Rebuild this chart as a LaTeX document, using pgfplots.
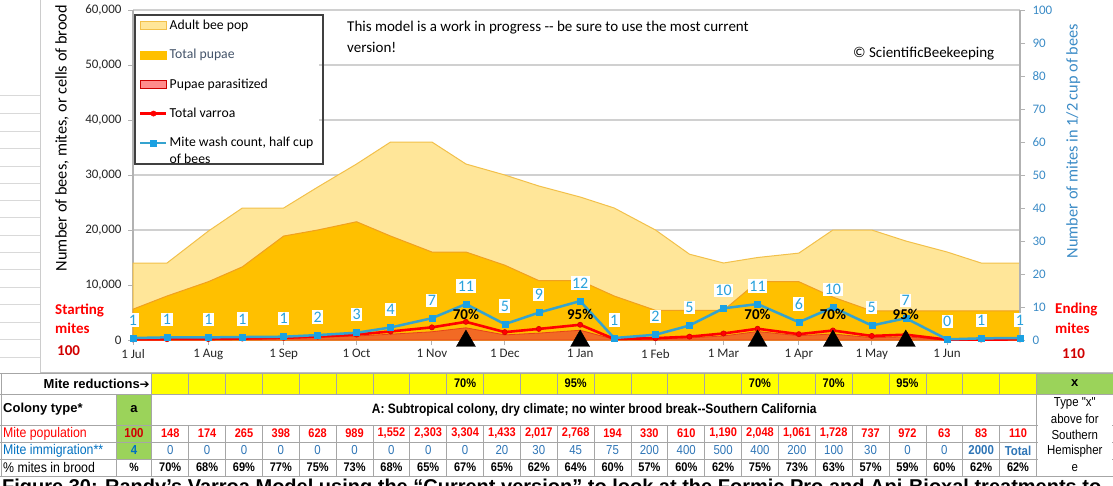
\documentclass[border=0pt]{standalone}
\usepackage{pgfplots}
\usepackage{pgfplotstable}
\pgfplotsset{compat=1.18}
\usepackage{fontspec}
\setmainfont{Carlito}
\newfontfamily\narrow[FakeStretch=0.88]{Liberation Sans}
\newfontfamily\arialb{Liberation Sans}
\newfontfamily\dejavu{DejaVu Sans}

\definecolor{adultfill}{HTML}{FFE699}
\definecolor{adultedge}{HTML}{F2C04A}
\definecolor{pupfill}{HTML}{FFC000}
\definecolor{pupedge}{HTML}{F0A020}
\definecolor{parfill}{HTML}{F26A24}
\definecolor{paredge}{HTML}{E8401A}
\definecolor{legpink}{HTML}{FF8C8C}
\definecolor{varroa}{HTML}{FF0000}
\definecolor{washline}{HTML}{35A3CF}
\definecolor{washmark}{HTML}{1BA1E2}
\definecolor{washtext}{HTML}{29A2DC}
\definecolor{axisblue}{HTML}{3B8BC6}
\definecolor{gridgray}{HTML}{D0D0D0}
\definecolor{tabgray}{HTML}{A6A6A6}
\definecolor{ylw}{HTML}{FFFF00}
\definecolor{grn}{HTML}{9BD35A}
\definecolor{redtxt}{HTML}{FF0000}
\definecolor{darkred}{HTML}{D00000}
\definecolor{bluetxt}{HTML}{2E75B6}
\definecolor{bluelab}{HTML}{0070C0}
\definecolor{pupaetxt}{HTML}{44546A}

\newcommand\fs[1]{\fontsize{#1}{#1}\selectfont}
\newcommand\lstrut{\rule[-3.5pt]{0pt}{13pt}}

\pgfplotsset{
  myarea/.style={legend image code/.code={\draw[##1] (0pt,-4pt) rectangle (26pt,4pt);}},
  myline/.style={legend image code/.code={\draw[mark repeat=2,mark phase=2,##1] plot coordinates {(0pt,0pt)(13pt,0pt)(26pt,0pt)};}},
}

\pgfplotstableread{
day adult pupae para varroa wash label
0   14000 5600  70   100  0.6  1
14  14000 8000  104  148  0.8  1
31  19800 10600 118  174  0.8  1
45  24000 13300 183  265  0.9  1
62  24000 18900 306  398  1.0  1
76  27800 20000 471  628  1.5  2
92  32000 21500 722  989  2.2  3
106 36000 18900 1055 1552 3.8  4
123 36000 16000 1497 2303 6.6  7
137 32000 16000 2214 3304 10.9 11
153 30000 13600 931  1433 4.8  5
167 28000 10800 1251 2017 8.3  9
184 26000 10800 1772 2768 11.8 12
198 24000 8000  116  194  0.6  1
215 20000 5400  188  330  1.6  2
229 15600 5400  366  610  4.4  5
243 14000 5400  738  1190 9.6  10
257 15000 10600 1536 2048 10.9 11
274 15800 10600 775  1061 5.4  6
288 20000 7800  1089 1728 9.9  10
304 20000 5300  420  737  4.4  5
318 18000 5300  573  972  6.6  7
335 16000 5300  38   63   0.2  0
349 14000 5300  51   83   0.5  1
365 14000 5300  68   110  0.6  1
}\data

\begin{document}
\begin{tikzpicture}
% ---------- decorations (pixel coordinates, y downward) ----------
\begin{scope}[x=1pt,y=-1pt]
\foreach \yy in {95,113,131,148,166,183,200,217,235,252,269,287,304,322,339,357}
  \draw[gray!30, line width=0.6pt] (0,\yy) -- (40,\yy);
\draw[gray!40, line width=0.8pt] (40,0) -- (40,372);
\draw[gray!50, line width=0.8pt] (40,372) -- (1113,372);
\end{scope}

% ---------- main axis ----------
\begin{axis}[
  at={(133pt,-340pt)}, anchor=south west,
  scale only axis, width=887pt, height=330pt,
  xmin=0, xmax=365, ymin=0, ymax=60000,
  clip=false,
  axis x line*=bottom, axis y line*=left,
  axis line style={draw=gray!60, line width=1.2pt},
  tick style={draw=gray!60, line width=1pt},
  tick align=outside, major tick length=5pt,
  xtick={0,31,62,92,123,153,184,215,243,274,304,335},
  xticklabels={1 Jul,1 Aug,1 Sep,1 Oct,1 Nov,1 Dec,1 Jan,1 Feb,1 Mar,1 Apr,1 May,1 Jun},
  xticklabel style={font=\fs{13}, text=black!85, yshift=-1pt},
  ytick={0,10000,20000,30000,40000,50000,60000},
  scaled y ticks=false,
  /pgf/number format/assume math mode=true,
  yticklabel style={font=\fs{13}, text=black!85, xshift=-3pt, /pgf/number format/fixed, /pgf/number format/1000 sep={,}},
  ymajorgrids, grid style={draw=gridgray, line width=1.4pt},
  ylabel={Number of bees, mites, or cells of brood},
  every axis y label/.style={at={(axis description cs:-0.080,0.612)}, rotate=90, anchor=center, font=\fs{16.3}},
  legend style={at={(axis description cs:0.0023,0.976)}, anchor=north west, draw=none, fill=white, font=\fs{13.7}, inner xsep=4pt, inner ysep=0pt, row sep=14.3pt, nodes={inner sep=2pt}},
  legend cell align=left,
]
\addplot[fill=adultfill, draw=adultedge, line width=1pt, forget plot] table[x=day,y=adult]{\data} \closedcycle;
\addplot[fill=pupfill, draw=pupedge, line width=1pt, forget plot] table[x=day,y=pupae]{\data} \closedcycle;
\addplot[fill=parfill, draw=paredge, line width=0.8pt, forget plot] table[x=day,y=para]{\data} \closedcycle;
\addplot[varroa, line width=2.6pt, mark=*, mark size=2.6pt, mark options={fill=varroa, draw=varroa!85!black, line width=0.6pt}, forget plot] table[x=day,y=varroa]{\data};

\addlegendimage{myarea, fill=adultfill, draw=adultedge, line width=0.8pt}
\addlegendentry{\lstrut Adult bee pop}
\addlegendimage{myarea, fill=pupfill, draw=pupfill, line width=0.8pt}
\addlegendentry{\lstrut\textcolor{pupaetxt}{Total pupae}}
\addlegendimage{myarea, fill=legpink, draw=red!80!black, line width=0.8pt}
\addlegendentry{\lstrut Pupae parasitized}
\addlegendimage{myline, varroa, line width=2.5pt, mark=*, mark size=2.6pt, mark options={fill=varroa, line width=0.6pt}}
\addlegendentry{\lstrut Total varroa}
\addlegendimage{myline, washline, line width=2.5pt, mark=square*, mark size=3pt, mark options={fill=washmark, draw=washmark, line width=0.5pt}}
\addlegendentry{\begin{tabular}[t]{@{}l@{}}\lstrut Mite wash count, half cup\\[2.5pt]\lstrut of bees\end{tabular}}
\end{axis}

% ---------- right axis ----------
\begin{axis}[
  at={(133pt,-340pt)}, anchor=south west,
  scale only axis, width=887pt, height=330pt,
  xmin=0, xmax=365, ymin=0, ymax=100,
  clip=false,
  axis x line=none, axis y line*=right,
  axis line style={draw=gray!60, line width=1.2pt},
  tick style={draw=gray!60, line width=1pt},
  tick align=outside, major tick length=5pt,
  ytick={0,10,20,30,40,50,60,70,80,90,100},
  /pgf/number format/assume math mode=true,
  yticklabel style={font=\fs{13}, text=axisblue, xshift=4pt},
  ylabel={Number of mites in 1/2 cup of bees},
  every axis y label/.style={at={(axis description cs:1.060,0.603)}, rotate=90, anchor=center, font=\fs{16.3}, text=axisblue},
]
\addplot[washline, line width=2.5pt, mark=square*, mark size=3pt, mark options={fill=washmark, draw=washmark, line width=0.5pt},
  nodes near coords, point meta=explicit symbolic,
  nodes near coords style={font=\fs{16}, text=washtext, fill=white, inner sep=1.5pt, anchor=center, yshift=18pt}]
  table[x=day, y=wash, meta=label]{\data};
\addplot[only marks, mark=triangle*, mark size=11pt, black, nodes near coords, point meta=explicit symbolic,
  nodes near coords style={font=\bfseries\fs{15}, text=black, anchor=center, yshift=27pt}]
  coordinates {(137,-0.3)[70\%] (184,-0.3)[95\%] (257,-0.3)[70\%] (288,-0.3)[70\%] (318,-0.3)[95\%]};
\end{axis}

% ---------- texts and table ----------
\begin{scope}[x=1pt,y=-1pt]
% legend frame
\draw[black!75, line width=1.2pt] (135,15) rectangle (323,164);

\node[anchor=west, font=\fs{15}, inner sep=0pt] at (347,28) {This model is a work in progress -{}- be sure to use the most current};
\node[anchor=west, font=\fs{15}, inner sep=0pt] at (347,47) {version!};
\node[anchor=west, font=\fs{15}, inner sep=0pt] at (853,54) {\textcopyright{} ScientificBeekeeping};

\node[anchor=west, font=\bfseries\fs{15}, text=redtxt, inner sep=0pt] at (55,310) {Starting};
\node[anchor=west, font=\bfseries\fs{15}, text=redtxt, inner sep=0pt] at (55,328) {mites};
\node[anchor=west, font=\bfseries\fs{15}, text=darkred, inner sep=0pt] at (57,351) {100};
\node[anchor=west, font=\bfseries\fs{15}, text=redtxt, inner sep=0pt] at (1055,310) {Ending};
\node[anchor=west, font=\bfseries\fs{15}, text=redtxt, inner sep=0pt] at (1055,328) {mites};
\node[anchor=west, font=\bfseries\fs{15}, text=darkred, inner sep=0pt] at (1062,354) {110};

% table fills
\fill[ylw] (151.8,373) rectangle (1036.5,394);
\fill[grn] (1036.5,373) rectangle (1113,394);
\fill[grn] (116,394) rectangle (151.8,459);
\fill[white] (1036.5,394) rectangle (1113,476);
% table lines
\foreach \yy in {373,394,425,442,459,476}
  \draw[tabgray, line width=0.7pt] (0,\yy) -- (1113,\yy);
\foreach \i in {0,...,24} {
  \pgfmathsetmacro\xx{151.8+\i*36.86}
  \draw[tabgray, line width=0.7pt] (\xx,373) -- (\xx,394);
  \draw[tabgray, line width=0.7pt] (\xx,425) -- (\xx,476);
}
\draw[tabgray, line width=0.7pt] (151.8,394) -- (151.8,425);
\draw[tabgray, line width=0.7pt] (1036.5,373) -- (1036.5,476);
\draw[tabgray, line width=0.7pt] (116,394) -- (116,476);
\draw[tabgray, line width=0.7pt] (1,373) -- (1,476);
\draw[white, line width=2pt] (1037.5,425) -- (1112,425);
\draw[white, line width=2pt] (1037.5,442) -- (1112,442);
\draw[white, line width=2pt] (1037.5,459) -- (1112,459);

% row 1
\node[anchor=east, font=\arialb\bfseries\fs{13}, inner sep=0pt] at (150,383.5) {Mite reductions{\dejavu\fs{12}➔}};
\foreach \c/\t in {9/70,12/95,17/70,19/70,21/95}
  \node[font=\narrow\bfseries\fs{12.5}, inner sep=0pt] at ({151.8+(\c-0.5)*36.86},383.5) {\t\%};
\node[font=\arialb\bfseries\fs{13}, inner sep=0pt] at (1074.8,383.5) {x};
% row 2
\node[anchor=west, font=\arialb\bfseries\fs{13}, inner sep=0pt] at (3,409.5) {Colony type*};
\node[font=\arialb\bfseries\fs{13}, inner sep=0pt] at (134,409.5) {a};
\node[font=\narrow\bfseries\fs{13.6}, inner sep=0pt] at (594.2,409.5) {A: Subtropical colony, dry climate; no winter brood break-{}-Southern California};
% row 3
\node[anchor=west, font=\narrow\fs{14}, text=redtxt, inner sep=0pt] at (3,433.5) {Mite population};
\node[font=\narrow\bfseries\fs{13}, text=darkred, inner sep=0pt] at (134,433.5) {100};
\foreach \v [count=\i] in {148,174,265,398,628,989,{1,552},{2,303},{3,304},{1,433},{2,017},{2,768},194,330,610,{1,190},{2,048},{1,061},{1,728},737,972,63,83,110}
  \node[text=redtxt, font=\narrow\bfseries\fs{12.5}, inner sep=0pt] at ({151.8+(\i-0.5)*36.86},433.5) {\v};
% row 4
\node[anchor=west, font=\narrow\fs{14}, text=bluelab, inner sep=0pt] at (3,450.5) {Mite immigration**};
\node[font=\narrow\bfseries\fs{13}, text=bluelab, inner sep=0pt] at (134,450.5) {4};
\foreach \v [count=\i] in {0,0,0,0,0,0,0,0,0,20,30,45,75,200,400,500,400,200,100,30,0,0}
  \node[text=bluetxt, font=\narrow\fs{13}, inner sep=0pt] at ({151.8+(\i-0.5)*36.86},450.5) {\v};
\node[text=bluetxt, font=\narrow\bfseries\fs{13}, inner sep=0pt] at ({151.8+22.5*36.86},450.5) {2000};
\node[text=bluetxt, font=\narrow\bfseries\fs{13}, inner sep=0pt] at ({151.8+23.5*36.86},450.5) {Total};
% row 5
\node[anchor=west, font=\narrow\fs{14}, inner sep=0pt] at (3,467.5) {\% mites in brood};
\node[font=\narrow\bfseries\fs{12}, inner sep=0pt] at (134,467.5) {\%};
\foreach \v [count=\i] in {70,68,69,77,75,73,68,65,67,65,62,64,60,57,60,62,75,73,63,57,59,60,62,62}
  \node[font=\narrow\bfseries\fs{12.5}, inner sep=0pt] at ({151.8+(\i-0.5)*36.86},467.5) {\v\%};
% last column text
\foreach \t/\yy in {{Type "x"}/403,{above for}/419,{Southern}/435,{Hemispher}/451,{e}/468}
  \node[font=\narrow\fs{13}, inner sep=0pt] at (1074.8,\yy) {\t};
% caption (cut by the page edge)
\node[anchor=base west, font=\arialb\bfseries\fs{20}, inner sep=0pt] at (2,493) {Figure 30: Randy’s Varroa Model using the “Current version” to look at the Formic Pro and Api-Bioxal treatments to};
\end{scope}

\pgfresetboundingbox
\path[use as bounding box] (0pt,0pt) rectangle (1113pt,-485pt);
\end{tikzpicture}
\end{document}
